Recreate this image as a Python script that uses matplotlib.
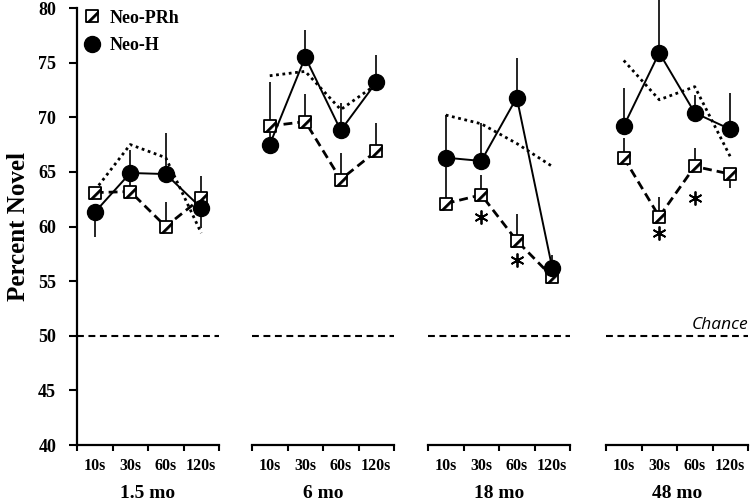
import matplotlib
matplotlib.use('Agg')
import matplotlib.pyplot as plt
import numpy as np
from matplotlib.path import Path
from matplotlib.lines import Line2D

plt.rcParams['font.family'] = 'serif'
plt.rcParams['font.serif'] = ['Liberation Serif', 'DejaVu Serif']
plt.rcParams['font.weight'] = 'bold'
plt.rcParams['axes.labelweight'] = 'bold'

nan = np.nan

ages = ['1.5 mo', '6 mo', '18 mo', '48 mo']
delays = ['10s', '30s', '60s', '120s']

# Neo-PRh (open hatched squares, dashed line)
prh_mean = [[63.1, 63.2, 60.0, 62.6],
            [69.2, 69.6, 64.3, 66.9],
            [62.1, 62.9, 58.7, 55.4],
            [66.3, 60.9, 65.5, 64.8]]
# one-sided error bars: positive = up, negative = down
prh_err = [[0.4, 1.5, 2.2, 2.0],
           [4.0, 2.5, 2.4, 2.6],
           [4.0, 1.8, 2.4, 0.6],
           [1.8, 1.8, 1.7, -1.3]]

# Neo-H (filled circles, solid line)
h_mean = [[61.3, 64.9, 64.8, 61.7],
          [67.5, 75.5, 68.8, 73.2],
          [66.3, 66.0, 71.8, 56.2],
          [69.2, 75.9, 70.4, 68.9]]
h_err = [[-2.3, 2.1, 3.8, -1.8],
         [1.7, 2.5, 2.5, 2.5],
         [3.9, 3.5, 3.6, 1.2],
         [3.5, 4.8, 1.6, 3.3]]

# dotted reference line (no markers)
control = [[63.3, 67.5, 66.3, 59.4],
           [73.8, 74.2, 70.7, 73.0],
           [70.2, 69.4, 67.6, 65.5],
           [75.2, 71.6, 72.8, 66.4]]

# significance asterisks
star_y = [[nan, nan, nan, nan],
          [nan, nan, nan, nan],
          [nan, 60.9, 56.9, nan],
          [nan, 59.4, 62.6, nan]]

chance = 50


def split_err(err):
    err = np.array(err)
    lower = np.where(err < 0, -err, 0)
    upper = np.where(err > 0, err, 0)
    return [lower, upper]


# open square and the black diagonal wedge drawn on top of it
sq_marker = Path([(-1, -1), (1, -1), (1, 1), (-1, 1), (-1, -1)],
                 [Path.MOVETO, Path.LINETO, Path.LINETO, Path.LINETO, Path.CLOSEPOLY])
wedge_marker = Path([(-1, -1), (1, 1), (1, 0.45), (-0.45, -1), (-1, -1)],
                    [Path.MOVETO, Path.LINETO, Path.LINETO, Path.LINETO, Path.CLOSEPOLY])
sq_style = dict(ls='none', marker=sq_marker, ms=9, mfc='white', mec='black', mew=1.3)
wedge_style = dict(ls='none', marker=wedge_marker, ms=9, mfc='black', mec='black', mew=0.3)


def draw_prh_markers(ax, xs, ys):
    ax.plot(xs, ys, zorder=5, **sq_style)
    ax.plot(xs, ys, zorder=5.1, **wedge_style)


W, H = 750, 501
fig = plt.figure(figsize=(7.5, 5.01), dpi=100)
lefts = [77, 252, 428, 606]

x = np.arange(4) + 0.5
for i, age in enumerate(ages):
    ax = fig.add_axes([lefts[i] / W, 56 / H, 142 / W, 437 / H])

    ax.axhline(chance, color='black', lw=1.5, dashes=(3.3, 2.2), zorder=1)
    ax.plot(x, control[i], color='black', lw=2.0, linestyle=(0, (1, 1.3)), zorder=2)

    ax.plot(x, prh_mean[i], color='black', lw=2, dashes=(3.2, 1.8), zorder=3)
    ax.errorbar(x, prh_mean[i], yerr=split_err(prh_err[i]), fmt='none',
                ecolor='black', elinewidth=1.2, capsize=0, zorder=3)
    draw_prh_markers(ax, x, prh_mean[i])

    ax.plot(x, h_mean[i], color='black', lw=1.4, zorder=6)
    eb = ax.errorbar(x, h_mean[i], yerr=split_err(h_err[i]), fmt='none',
                     ecolor='black', elinewidth=1.2, capsize=0, zorder=4)
    for c in eb[2]:
        c.set_clip_on(False)
    ax.plot(x, h_mean[i], ls='none', marker='o', ms=11.5, mfc='black',
            mec='black', zorder=7)

    ax.plot(x, star_y[i], ls='none', marker=(6, 2, 0), ms=10, mec='black',
            mew=1.3, zorder=8)

    ax.set_xlim(0, 4)
    ax.set_ylim(40, 80)
    for s in ['top', 'right']:
        ax.spines[s].set_visible(False)
    ax.spines['bottom'].set_linewidth(1.6)
    ax.set_xticks(range(5))
    ax.set_xticklabels([])
    ax.tick_params(axis='x', which='major', length=4, width=1.5, direction='out')
    ax.set_xticks(x, minor=True)
    ax.set_xticklabels(delays, minor=True, fontsize=11.5, fontweight='bold')
    ax.tick_params(axis='x', which='minor', length=0, pad=9)
    ax.set_xlabel(age, fontsize=14, fontweight='bold', labelpad=8)

    if i == 0:
        ax.spines['left'].set_linewidth(1.6)
        ax.set_yticks(range(40, 81, 5))
        ax.set_yticklabels([str(v) for v in range(40, 81, 5)], fontweight='bold')
        ax.tick_params(axis='y', length=6, width=1.5, labelsize=13, pad=9)
        ax.set_ylabel('Percent Novel', fontsize=18, fontweight='bold')
        ax.yaxis.set_label_coords(-0.33, 0.5)
        prh_handle = (Line2D([], [], **sq_style), Line2D([], [], **wedge_style))
        h_handle = Line2D([], [], ls='none', marker='o', ms=11.5, color='black')
        ax.legend([prh_handle, h_handle], ['Neo-PRh', 'Neo-H'], loc='upper left',
                  bbox_to_anchor=(-0.02, 1.017), frameon=False,
                  prop={'size': 13, 'weight': 'bold'},
                  handlelength=1.0, handletextpad=0.45, borderpad=0,
                  labelspacing=0.6)
    else:
        ax.spines['left'].set_visible(False)
        ax.set_yticks([])

    if i == 3:
        ax.text(1.0, chance + 1.0, 'Chance', family='Open Sans', style='italic',
                weight='normal', fontsize=12.5, ha='right', va='center',
                transform=ax.get_yaxis_transform())

fig.savefig('out.png', dpi=100)
